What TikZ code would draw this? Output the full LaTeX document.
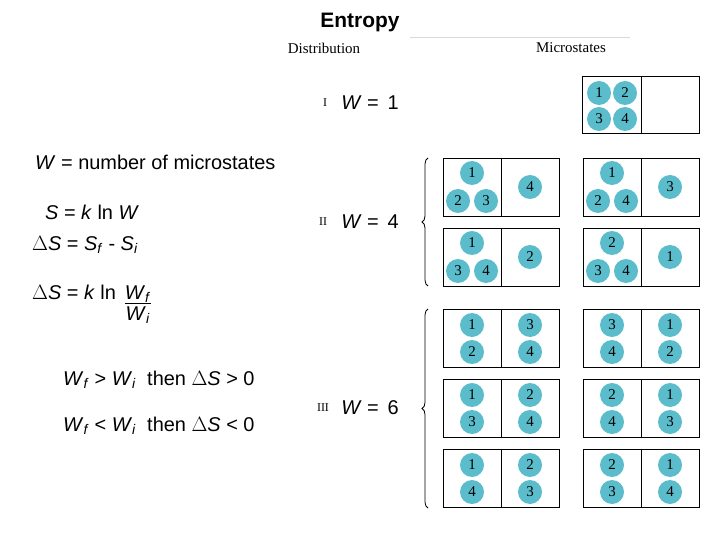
\documentclass[tikz,border=0pt]{standalone}
\usepackage{fontspec}
\setmainfont{Liberation Sans}
\newfontfamily\bookfont{Liberation Serif}
\usetikzlibrary{positioning,calc,decorations.pathreplacing}
\definecolor{ballblue}{HTML}{5BBDCC}
\newcommand{\sub}[2]{\textit{#1}\textsubscript{\textit{#2}}}
\begin{document}
\begin{tikzpicture}[x=1bp,y=-1bp]
\tikzset{
txt/.style     = {inner sep=0pt, font=\fontsize{20}{24}\selectfont},
lbl/.style     = {inner sep=0pt, font=\bookfont\fontsize{15}{18}\selectfont},
ball/.style    = {circle, fill=ballblue, minimum size=24bp, inner sep=0pt, font=\bookfont\fontsize{15}{16}\selectfont},
cell/.style    = {draw, line width=1pt},
brace/.style   = {decorate, decoration={brace, amplitude=6bp}, thick},
}
\useasboundingbox (0,0) rectangle (720,540);
    % Header
    \node [txt, font=\bfseries\fontsize{21}{24}\selectfont] (title) at (360,22) {Entropy};
    \draw [black!15] (410,37) -- (630,37);
    \node [lbl] (distr) at (324,48) {Distribution};
    \node [lbl] (micro) at (571,48) {Microstates};

    % Left formulas
    \node [txt, anchor=west] (wdef)   at (35,162) {\textit{W} = number of microstates};
    \node [txt, anchor=west] (sdef)   at (45,212) {\textit{S} = \textit{k} ln \textit{W}};
    \node [txt, anchor=west] (dsdef)  at (32,245) {$\Delta$\textit{S} = \sub{S}{f} - \sub{S}{i}};
    \node [txt, anchor=west] (dsfrac) at (32,305) {$\Delta$\textit{S} = \textit{k} ln\,
        \raisebox{-0.55em}{\begin{tabular}{@{}c@{}}\sub{W}{f}\\[-3pt]\hline\sub{W}{i}\end{tabular}}};
    \node [txt, anchor=west] (grow)   at (63,380) {\sub{W}{f} > \sub{W}{i} \ then $\Delta$\textit{S} > 0};
    \node [txt, anchor=west] (shrink) at (63,426) {\sub{W}{f} < \sub{W}{i} \ then $\Delta$\textit{S} < 0};

    % Distribution labels
    \node [lbl, font=\bookfont\fontsize{12}{14}\selectfont] (one)   at (325,103) {I};
    \node [txt] (wone)  at (370,103) {\textit{W} = \,1};
    \node [lbl, font=\bookfont\fontsize{12}{14}\selectfont] (two)   at (323,222) {II};
    \node [txt] (wtwo)  at (370,222) {\textit{W} = \,4};
    \node [lbl, font=\bookfont\fontsize{12}{14}\selectfont] (three) at (323,408) {III};
    \node [txt] (wthree) at (370,408) {\textit{W} = \,6};

    % Case I
    \draw [cell] (582,77) rectangle (699,134);
    \draw (641,77) -- (641,134);
    \node [ball] (b1a) at (599,93)  {1};
    \node [ball] (b1b) at (625,93)  {2};
    \node [ball] (b1c) at (599,119) {3};
    \node [ball] (b1d) at (625,119) {4};

    % Case II
    \foreach \x/\y/\a/\b/\c/\d in {443/158/1/2/3/4, 583/158/1/2/4/3, 443/228/1/3/4/2, 583/228/2/3/4/1} {
        \draw [cell] (\x,\y) rectangle ++(116,58);
        \draw (\x+58,\y) -- ++(0,58);
        \node [ball] at (\x+29,\y+15) {\a};
        \node [ball] at (\x+15,\y+43) {\b};
        \node [ball] at (\x+43,\y+43) {\c};
        \node [ball] at (\x+87,\y+29) {\d};
    }
    \draw [brace] (428,286) -- (428,158);

    % Case III
    \foreach \x/\y/\a/\b/\c/\d in {443/309/1/2/3/4, 583/309/3/4/1/2, 443/379/1/3/2/4, 583/379/2/4/1/3, 443/449/1/4/2/3, 583/449/2/3/1/4} {
        \draw [cell] (\x,\y) rectangle ++(116,58);
        \draw (\x+58,\y) -- ++(0,58);
        \node [ball] at (\x+29,\y+16) {\a};
        \node [ball] at (\x+29,\y+43) {\b};
        \node [ball] at (\x+87,\y+16) {\c};
        \node [ball] at (\x+87,\y+43) {\d};
    }
    \draw [brace] (428,508) -- (428,309);
\end{tikzpicture}
\end{document}
